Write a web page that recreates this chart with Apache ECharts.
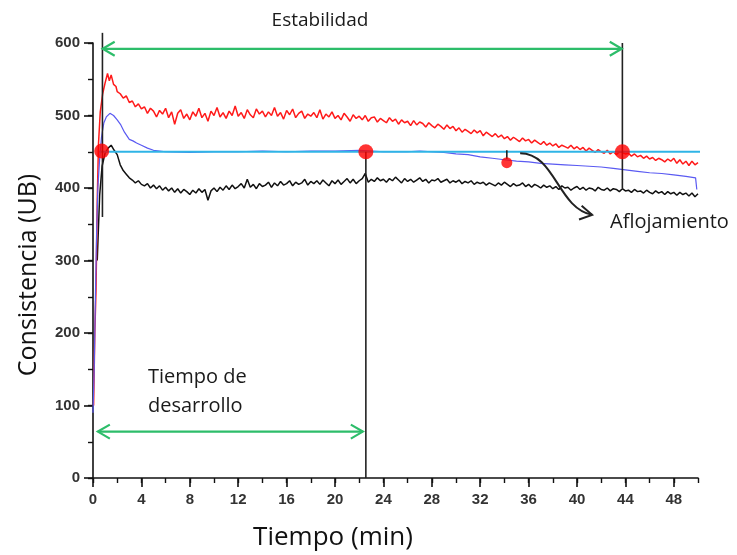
<!DOCTYPE html>
<html><head><meta charset="utf-8">
<script src="https://cdn.jsdelivr.net/npm/echarts@6/dist/echarts.min.js"></script>
<style>html,body{margin:0;padding:0;background:#fff}#c{width:737px;height:555px}</style>
</head><body><div id="c"></div>
<script>
// ---------- data ----------
const xTickLabels = [0, 4, 8, 12, 16, 20, 24, 28, 32, 36, 40, 44, 48];
const yTickLabels = [0, 100, 200, 300, 400, 500, 600];
const gridStep = 0.25;          // sampling step (min) of the noisy traces
const gridStart = 2.25;         // first sampled time of the noisy traces

const redRise = [[0.05,100],[0.15,200],[0.25,260],[0.35,380],[0.45,460],[0.6,505],[0.8,530],[1.0,545],[1.2,558],[1.35,548],[1.5,556],[1.7,543],[1.9,540],[2.0,533]];
const redValues = [
530,524,527,518, 520,512,516,509, 512,503,510,506, 498,507,502,510,
497,505,488,503, 508,496,502,494, 505,499,510,497, 503,492,506,500,
511,498,504,496, 506,500,513,499, 504,496,508,501, 497,509,502,506,
498,505,500,511, 499,504,495,507, 501,509,497,503, 506,496,502,499,
504,497,508,495, 502,498,505,496, 500,494,503,498, 492,501,496,499,
494,500,492,497, 498,491,496,493, 490,497,492,495, 488,494,490,492,
486,493,487,491, 489,484,490,486, 483,488,485,481, 487,482,485,479,
483,477,481,478, 475,480,476,479, 472,477,474,471, 475,470,473,468,
471,466,470,467, 464,469,465,467, 462,466,463,460, 464,459,462,458,
461,456,459,457, 455,459,454,457, 453,456,451,455, 452,449,453,450,
448,452,447,450, 446,450,449,447, 448,444,447,443, 445,441,444,440,
442,438,441,439, 436,440,437,441, 434,439,433,437, 431,437,432,435];

const blackRise = [[0.35,300],[0.55,390],[0.75,430],[1.0,448],[1.25,455],[1.5,459],[1.75,452],[2.0,446]];
const blackValues = [
432,424,419,414, 411,407,410,405, 403,406,400,404, 399,403,397,401,
396,400,394,399, 393,398,395,391, 397,393,399,394, 398,383,396,400,
395,401,397,403, 398,404,399,402, 406,400,412,401, 405,399,406,402,
404,408,401,407, 403,409,404,406, 410,403,408,405, 407,412,404,409,
406,410,405,411, 407,403,410,406, 411,405,409,413, 407,412,406,410,
413,420,408,412, 409,414,410,412, 408,413,410,415, 411,407,413,409,
412,408,411,414, 409,412,407,411, 410,413,408,410, 412,407,410,408,
411,406,409,407, 410,405,408,406, 408,404,407,405, 403,407,404,408,
405,402,406,403, 404,407,402,405, 401,405,403,400, 404,401,403,399,
402,398,403,400, 401,397,400,402, 398,401,397,400, 399,396,401,398,
397,400,396,399, 398,395,399,396, 397,394,398,395, 396,393,397,394,
392,396,393,395, 391,395,392,394, 390,394,391,393, 389,393,388,392];

const bluePoints = [[0,90],[0.1,150],[0.2,250],[0.3,340],[0.4,400],[0.55,440],[0.7,470],[0.9,490],[1.1,498],[1.4,503],[1.7,500],[2.0,494],[2.3,487],[2.6,477],[3.0,467],[3.3,465],[3.6,462],[4.0,459],[4.5,455],[5.0,452],[5.5,451],[6,450],[8,449],[10,450],[12,450],[14,451],[16,450],[18,451],[20,451],[22,452],[24,450],[26,450],[27,451],[28,450],[29,449],[30,447],[31,446],[32,443],[33,441],[34,439],[35,437],[36,436],[37,434],[38,433],[39,432],[40,431],[41,430],[42,429],[43,427],[44,425],[45,423],[46,421],[47,420],[48,418],[49,416],[49.8,414],[49.9,398]];

const refLine = [[0.5,450],[50.2,450]];
const dotsBig = [[0.72,451],[22.55,450],[43.75,450]];
const dotsSmall = [[34.2,435]];
const vLines = [[0.78,614,360],[22.55,450,0],[43.75,600,400],[34.2,452,440]];
const spanArrows = [[0.8,43.7,592],[0.4,22.3,64]];
const curvedArrow = [[35.3,448,38.2,448,38.4,372,41.25,363]];

const texts = {
  stab: 'Estabilidad', loose: 'Aflojamiento', dev1: 'Tiempo de', dev2: 'desarrollo',
  xName: 'Tiempo (min)', yName: 'Consistencia (UB)'
};

// ---------- build ----------
function sampled(start, step, vals) { return vals.map((v, i) => [start + i * step, v]); }
const redData = redRise.concat(sampled(gridStart, gridStep, redValues));
const blackData = blackRise.concat(sampled(gridStart, gridStep, blackValues));

const chart = echarts.init(document.getElementById('c'));
const axisCol = '#111';
const tickFont = {color:'#333', fontSize:15, fontWeight:'bold', fontFamily:'Liberation Sans, Arial, sans-serif'};
const txtFont = 'Open Sans, sans-serif';

function chevron(tip, dx, dy, len, half) {
  const nx = -dy, ny = dx;
  return [[tip[0] - dx*len + nx*half, tip[1] - dy*len + ny*half], tip, [tip[0] - dx*len - nx*half, tip[1] - dy*len - ny*half]];
}

chart.setOption({
  animation: false,
  grid: {left: 93, right: 39, top: 43, bottom: 77},
  xAxis: [
    {type:'value', min:0, max:50, interval:4, position:'bottom', offset:0,
     axisLine:{show:true, onZero:false, lineStyle:{color:axisCol, width:1.6}},
     axisTick:{show:true, length:9, customValues:xTickLabels, lineStyle:{color:axisCol, width:1.6}},
     axisLabel:Object.assign({margin:14, customValues:xTickLabels}, tickFont),
     splitLine:{show:false}},
    {type:'value', min:0, max:50, interval:2, position:'bottom', offset:0,
     axisLine:{show:false, onZero:false}, axisTick:{show:true, length:5, lineStyle:{color:axisCol, width:1.4}},
     axisLabel:{show:false}, splitLine:{show:false}}
  ],
  yAxis: [
    {type:'value', min:0, max:600, interval:100, position:'left', offset:0,
     axisLine:{show:true, onZero:false, lineStyle:{color:axisCol, width:1.6}},
     axisTick:{show:true, length:9, lineStyle:{color:axisCol, width:1.6}},
     axisLabel:Object.assign({margin:13, formatter:v => yTickLabels.includes(v) ? String(v) : ''}, tickFont),
     splitLine:{show:false}},
    {type:'value', min:0, max:600, interval:50, position:'left', offset:0,
     axisLine:{show:false, onZero:false}, axisTick:{show:true, length:5, lineStyle:{color:axisCol, width:1.4}},
     axisLabel:{show:false}, splitLine:{show:false}}
  ],
  graphic: [
    {type:'text', x:320, y:21, style:{text:texts.stab, font:'19px ' + txtFont, fill:'#1a1a1a', textAlign:'center', textVerticalAlign:'middle'}},
    {type:'text', x:610, y:222, style:{text:texts.loose, font:'20px ' + txtFont, fill:'#1a1a1a', textAlign:'left', textVerticalAlign:'middle'}},
    {type:'text', x:148, y:377, style:{text:texts.dev1, font:'20px ' + txtFont, fill:'#1a1a1a', textAlign:'left', textVerticalAlign:'middle'}},
    {type:'text', x:148, y:406, style:{text:texts.dev2, font:'20px ' + txtFont, fill:'#1a1a1a', textAlign:'left', textVerticalAlign:'middle'}},
    {type:'text', x:333, y:538, style:{text:texts.xName, font:'26px ' + txtFont, fill:'#111', textAlign:'center', textVerticalAlign:'middle'}},
    {type:'text', x:29, y:275, rotation:Math.PI/2, style:{text:texts.yName, font:'25px ' + txtFont, fill:'#111', textAlign:'center', textVerticalAlign:'middle'}}
  ],
  series: [
    {type:'line', name:'black', data:blackData, showSymbol:false, lineStyle:{color:'#111', width:1.5}, z:2},
    {type:'line', name:'red', data:redData, showSymbol:false, lineStyle:{color:'#ff1a1a', width:1.5}, z:3},
    {type:'line', name:'blue', data:bluePoints, showSymbol:false, lineStyle:{color:'#5a5af2', width:1.2}, z:4},
    {type:'line', name:'ref', data:refLine, showSymbol:false, lineStyle:{color:'#2fb4e6', width:1.8}, z:5},
    {type:'custom', name:'vlines', data:vLines, encode:{x:0, y:[1,2]}, z:6, clip:false,
     renderItem:(p, api) => {
       const a = api.coord([api.value(0), api.value(1)]), b = api.coord([api.value(0), api.value(2)]);
       return {type:'line', shape:{x1:a[0], y1:a[1], x2:b[0], y2:b[1]}, style:{stroke:'#222', lineWidth:1.6}};
     }},
    {type:'custom', name:'spans', data:spanArrows, encode:{x:[0,1], y:2}, z:6, clip:false,
     renderItem:(p, api) => {
       const a = api.coord([api.value(0), api.value(2)]), b = api.coord([api.value(1), api.value(2)]);
       const st = {stroke:'#2dbd6a', lineWidth:2.2, fill:null};
       return {type:'group', children:[
         {type:'line', shape:{x1:a[0], y1:a[1], x2:b[0], y2:b[1]}, style:st},
         {type:'polyline', shape:{points:chevron(a, -1, 0, 12, 7)}, style:st},
         {type:'polyline', shape:{points:chevron(b, 1, 0, 12, 7)}, style:st}
       ]};
     }},
    {type:'custom', name:'curved', data:curvedArrow, encode:{x:[0,2,4,6], y:[1,3,5,7]}, z:6, clip:false,
     renderItem:(p, api) => {
       const p0 = api.coord([api.value(0), api.value(1)]), c1 = api.coord([api.value(2), api.value(3)]);
       const c2 = api.coord([api.value(4), api.value(5)]), p3 = api.coord([api.value(6), api.value(7)]);
       let dx = p3[0] - c2[0], dy = p3[1] - c2[1]; const L = Math.hypot(dx, dy); dx /= L; dy /= L;
       const st = {stroke:'#222', lineWidth:2, fill:null};
       return {type:'group', children:[
         {type:'bezierCurve', shape:{x1:p0[0], y1:p0[1], cpx1:c1[0], cpy1:c1[1], cpx2:c2[0], cpy2:c2[1], x2:p3[0], y2:p3[1]}, style:st},
         {type:'polyline', shape:{points:chevron(p3, dx, dy, 12, 7)}, style:st}
       ]};
     }},
    {type:'scatter', name:'dots', data:dotsBig, symbolSize:15, itemStyle:{color:'#ff0000'}, z:8},
    {type:'scatter', name:'dot2', data:dotsSmall, symbolSize:11, itemStyle:{color:'#ff0000'}, z:8}
  ]
});
</script></body></html>
